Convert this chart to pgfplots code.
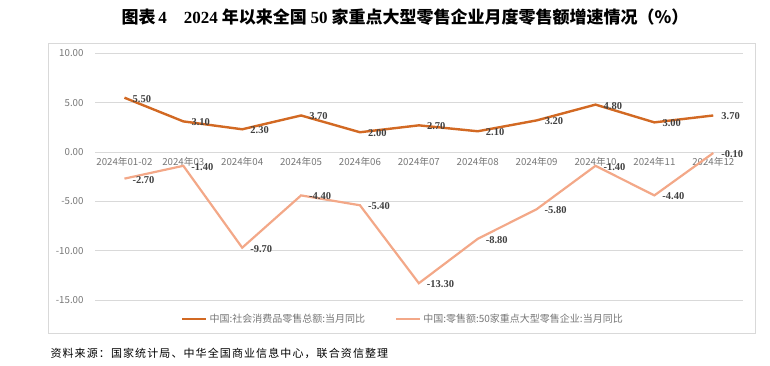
\documentclass[border=0pt]{standalone}
\usepackage{pgfplots}
\pgfplotsset{compat=1.18}
\usepackage{fontspec}
\setmainfont{Noto Sans CJK SC}
\newfontfamily\titleserif{Liberation Serif}
\newfontfamily\srcfont[LetterSpace=10]{Noto Sans CJK SC}
\definecolor{darkor}{RGB}{210,105,35}
\definecolor{lightor}{RGB}{243,168,136}
\definecolor{gridc}{RGB}{217,217,217}
\definecolor{tickc}{RGB}{118,118,118}
\definecolor{labc}{RGB}{64,64,64}
\begin{document}
\begin{tikzpicture}[x=1pt,y=1pt]
\path[use as bounding box] (0,0) rectangle (770,365);
\draw[color=gridc, line width=0.9pt] (48,32) rectangle (755,322);
\node[font={\fontsize{17}{19}\selectfont\bfseries}] at (405,348) {图表\,{\titleserif\bfseries 4}\quad{\titleserif\bfseries 2024} 年以来全国 {\titleserif\bfseries 50} 家重点大型零售企业月度零售额增速情况（\%）};
\node[anchor=west, font={\fontsize{11}{13}\srcfont}] at (47,12) {资料来源：国家统计局、中华全国商业信息中心，联合资信整理};
\begin{axis}[
  at={(95pt,65pt)}, anchor=south west,
  scale only axis, width=647.7pt, height=246.7pt,
  xmin=-0.5, xmax=10.5, ymin=-15, ymax=10,
  axis x line*=middle, axis y line*=left,
  axis line style={draw=none},
  hide obscured x ticks=false, hide obscured y ticks=false,
  major tick length=0pt,
  ytick={-15,-10,-5,0,5,10},
  ymajorgrids, grid style={color=gridc, line width=0.9pt},
  xtick={0,...,10},
  xticklabels={2024年01-02,2024年03,2024年04,2024年05,2024年06,2024年07,2024年08,2024年09,2024年10,2024年11,2024年12},
  xticklabel style={font={\fontsize{9.7}{11}\selectfont}, text=tickc, anchor=north, yshift=-2pt},
  yticklabel style={font={\fontsize{9.7}{11}\selectfont}, text=tickc, anchor=east, xshift=-8pt},
  /pgf/number format/assume math mode=true,
  y tick label style={/pgf/number format/.cd, fixed, fixed zerofill, precision=2},
  clip=false,
  legend columns=2,
  legend style={at={(0.4755,-0.077)}, anchor=center, draw=none, fill=none,
     font={\fontsize{10}{12}\selectfont}, text=tickc,
     /tikz/every even column/.append style={column sep=28pt},
     inner sep=0pt},
  legend image code/.code={\draw[#1] (0pt,0pt) -- (24pt,0pt);},
  point meta=y,
  nodes near coords={\pgfmathprintnumber[fixed,fixed zerofill,precision=2,assume math mode=true]{\pgfplotspointmeta}},
  every node near coord/.append style={anchor=west, xshift=7pt, yshift=-1pt,
     font={\fontsize{10.5}{12}\titleserif\bfseries}, text=labc, inner sep=0pt},
]
\addplot[color=darkor, line width=2.4pt, mark=none] coordinates {
(0,5.5) (1,3.1) (2,2.3) (3,3.7) (4,2.0) (5,2.7) (6,2.1) (7,3.2) (8,4.8) (9,3.0) (10,3.7)};
\addlegendentry{中国:社会消费品零售总额:当月同比}
\addplot[color=lightor, line width=2.2pt, mark=none] coordinates {
(0,-2.7) (1,-1.4) (2,-9.7) (3,-4.4) (4,-5.4) (5,-13.3) (6,-8.8) (7,-5.8) (8,-1.4) (9,-4.4) (10,-0.1)};
\addlegendentry{中国:零售额:50家重点大型零售企业:当月同比}
\end{axis}
\end{tikzpicture}
\end{document}
